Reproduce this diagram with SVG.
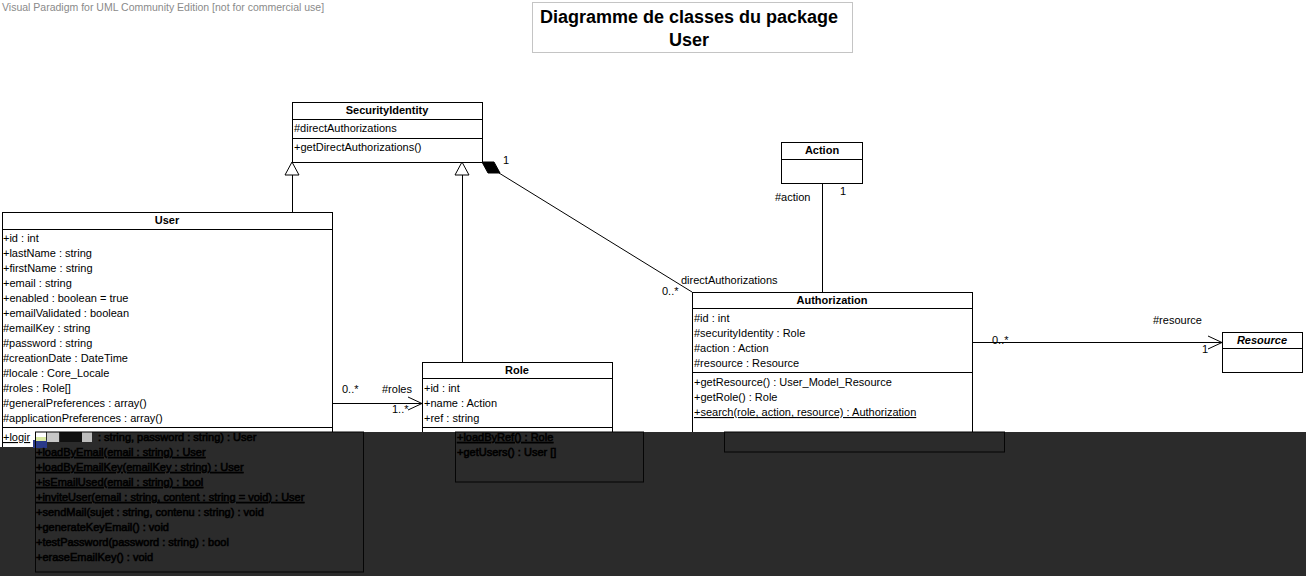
<svg xmlns="http://www.w3.org/2000/svg" width="1306" height="576" viewBox="0 0 1306 576">
<style>
text{font-family:"Liberation Sans",Arial,sans-serif;font-size:11px;fill:#000}
.hd{font-weight:bold;text-anchor:middle}
.box{fill:#fff;stroke:#000;stroke-width:1}
.ln{stroke:#000;stroke-width:1;fill:none}
.u{text-decoration:underline}
text.dk{fill:#000;stroke:#000;stroke-width:0.6}
.dkl{stroke:#050505;stroke-width:1;fill:none}
</style>
<text x="2" y="11" style="fill:#8a8a8a;font-size:10.5px">Visual Paradigm for UML Community Edition [not for commercial use]</text>
<g id="title">
<rect x="532.5" y="2.5" width="320" height="50" fill="#fff" stroke="#c4c4c4"/>
<text x="689" y="23" class="hd" style="font-size:18px">Diagramme de classes du package</text>
<text x="689" y="46" class="hd" style="font-size:18px">User</text>
</g>
<g id="connectors">
<polygon points="292,162 285,175 299,175" class="box"/>
<line x1="292.5" y1="175" x2="292.5" y2="212" class="ln"/>
<polygon points="462,162 455,175 469,175" class="box"/>
<line x1="462.5" y1="175" x2="462.5" y2="362" class="ln"/>
<polygon points="482,162 494,162 500,173 488,173" fill="#000" stroke="#000"/>
<line x1="499" y1="173" x2="692" y2="292" class="ln"/>
<text x="503" y="164">1</text>
<text x="681" y="284">directAuthorizations</text>
<text x="662" y="295">0..*</text>
<line x1="822.5" y1="183" x2="822.5" y2="292" class="ln"/>
<text x="775" y="201">#action</text>
<text x="840" y="195">1</text>
<line x1="332" y1="403.5" x2="422" y2="403.5" class="ln"/>
<polyline points="408,397 422,403.5 408,410" class="ln"/>
<text x="342" y="393">0..*</text>
<text x="382" y="393">#roles</text>
<text x="392" y="413">1..*</text>
<line x1="972" y1="342.5" x2="1222" y2="342.5" class="ln"/>
<polyline points="1208,336 1222,342.5 1208,349" class="ln"/>
<text x="992" y="344">0..*</text>
<text x="1153" y="324">#resource</text>
<text x="1202" y="353">1</text>
</g>
<g id="SecurityIdentity">
<rect x="292.5" y="102.5" width="190" height="60" class="box"/>
<line x1="292.5" y1="119.5" x2="482.5" y2="119.5" class="ln"/>
<line x1="292.5" y1="138.5" x2="482.5" y2="138.5" class="ln"/>
<text x="387" y="114" class="hd">SecurityIdentity</text>
<text x="294" y="132">#directAuthorizations</text>
<text x="294" y="151">+getDirectAuthorizations()</text>
</g>
<g id="Action">
<rect x="781.5" y="142.5" width="81" height="41" class="box"/>
<line x1="781.5" y1="159.5" x2="862.5" y2="159.5" class="ln"/>
<text x="822" y="154" class="hd">Action</text>
</g>
<g id="User">
<rect x="2.5" y="212.5" width="330" height="240" class="box"/>
<line x1="2.5" y1="229.5" x2="332.5" y2="229.5" class="ln"/>
<line x1="2.5" y1="427.5" x2="332.5" y2="427.5" class="ln"/>
<text x="167" y="224" class="hd">User</text>
<text x="3" y="242">+id : int</text>
<text x="3" y="257">+lastName : string</text>
<text x="3" y="272">+firstName : string</text>
<text x="3" y="287">+email : string</text>
<text x="3" y="302">+enabled : boolean = true</text>
<text x="3" y="317">+emailValidated : boolean</text>
<text x="3" y="332">#emailKey : string</text>
<text x="3" y="347">#password : string</text>
<text x="3" y="362">#creationDate : DateTime</text>
<text x="3" y="377">#locale : Core_Locale</text>
<text x="3" y="392">#roles : Role[]</text>
<text x="3" y="407">#generalPreferences : array()</text>
<text x="3" y="422">#applicationPreferences : array()</text>
</g>
<g id="Role">
<rect x="422.5" y="362.5" width="190" height="80" class="box"/>
<line x1="422.5" y1="378.5" x2="612.5" y2="378.5" class="ln"/>
<line x1="422.5" y1="427.5" x2="612.5" y2="427.5" class="ln"/>
<text x="517" y="374" class="hd">Role</text>
<text x="424" y="392">+id : int</text>
<text x="424" y="407">+name : Action</text>
<text x="424" y="422">+ref : string</text>
</g>
<g id="Authorization">
<rect x="692.5" y="292.5" width="280" height="150" class="box"/>
<line x1="692.5" y1="308.5" x2="972.5" y2="308.5" class="ln"/>
<line x1="692.5" y1="372.5" x2="972.5" y2="372.5" class="ln"/>
<text x="832" y="304" class="hd">Authorization</text>
<text x="694" y="322">#id : int</text>
<text x="694" y="337">#securityIdentity : Role</text>
<text x="694" y="352">#action : Action</text>
<text x="694" y="367">#resource : Resource</text>
<text x="694" y="386">+getResource() : User_Model_Resource</text>
<text x="694" y="401">+getRole() : Role</text>
<text x="694" y="416" class="u">+search(role, action, resource) : Authorization</text>
</g>
<g id="Resource">
<rect x="1222.5" y="332.5" width="80" height="40" class="box"/>
<line x1="1222.5" y1="348.5" x2="1302.5" y2="348.5" class="ln"/>
<text x="1262" y="344" class="hd" style="font-style:italic">Resource</text>
</g>
<g id="band">
<rect x="0" y="432" width="1306" height="144" fill="#2b2b2b"/>
<rect x="0" y="432" width="46" height="15" fill="#fff"/>
<line x1="2.5" y1="432" x2="2.5" y2="447" class="ln"/>
<text x="3" y="441" class="u">+logir</text>
<rect x="33" y="440" width="14" height="8" fill="#2a3a8a"/>
<rect x="36" y="437" width="10" height="4" fill="#d8e8a0"/>
<rect x="47" y="432" width="12" height="10" fill="#c8c8c8"/>
<rect x="60" y="432" width="22" height="10" fill="#101010"/>
<rect x="82" y="432" width="10" height="10" fill="#bdbdbd"/>
<rect x="35.5" y="432" width="328" height="140" class="dkl"/>
<rect x="455.5" y="432" width="188" height="50" class="dkl"/>
<rect x="724.5" y="432" width="280" height="20" class="dkl"/>
<text x="98" y="441" class="dk">: string, password : string) : User</text>
<text x="36" y="456" class="dk u">+loadByEmail(email : string) : User</text>
<text x="36" y="471" class="dk u">+loadByEmailKey(emailKey : string) : User</text>
<text x="36" y="486" class="dk u">+isEmailUsed(email : string) : bool</text>
<text x="36" y="501" class="dk u">+inviteUser(email : string, content : string = void) : User</text>
<text x="36" y="516" class="dk">+sendMail(sujet : string, contenu : string) : void</text>
<text x="36" y="531" class="dk">+generateKeyEmail() : void</text>
<text x="36" y="546" class="dk">+testPassword(password : string) : bool</text>
<text x="36" y="561" class="dk">+eraseEmailKey() : void</text>
<text x="457" y="441" class="dk u">+loadByRef() : Role</text>
<text x="457" y="456" class="dk">+getUsers() : User []</text>
</g>
</svg>
